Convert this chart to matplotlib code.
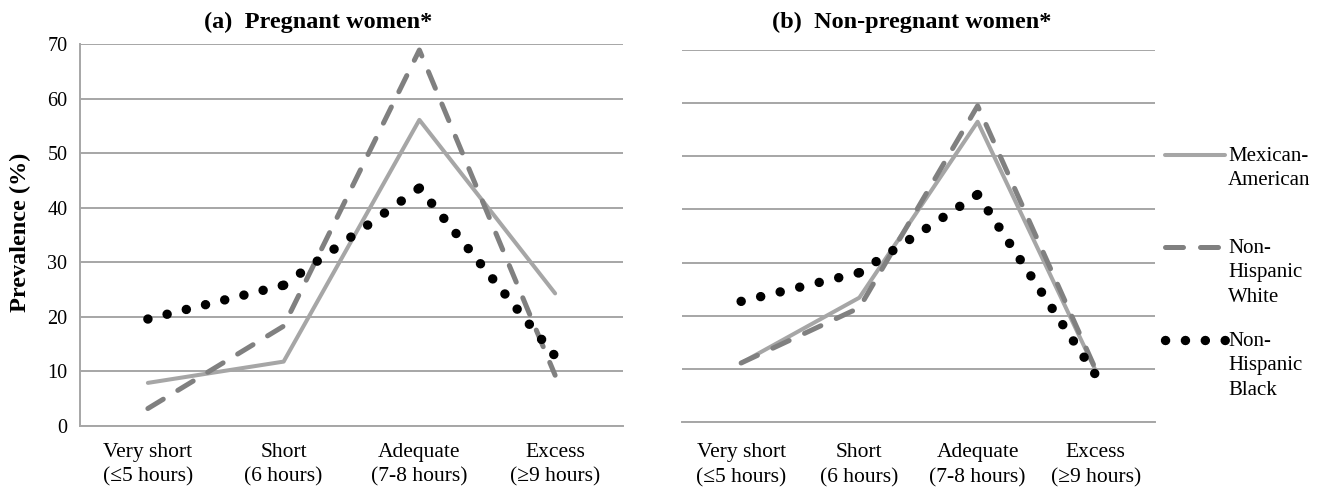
import matplotlib
matplotlib.use("Agg")
import matplotlib.pyplot as plt
from matplotlib.lines import Line2D
import numpy as np

plt.rcParams['font.family'] = ['Liberation Serif', 'DejaVu Serif']

categories = ["Very short\n(≤5 hours)", "Short\n(6 hours)", "Adequate\n(7-8 hours)", "Excess\n(≥9 hours)"]
series_names = ["Mexican-\nAmerican", "Non-\nHispanic\nWhite", "Non-\nHispanic\nBlack"]

# Panel (a) pregnant women
preg_mexican = [7.9, 11.8, 56.1, 24.3]
preg_white = [3.2, 18.3, 68.9, 9.3]
preg_black = [19.6, 25.8, 43.6, 12.8]

# Panel (b) non-pregnant women
nonpreg_mexican = [11.1, 23.4, 56.5, 9.6]
nonpreg_white = [11.1, 21.5, 59.5, 9.8]
nonpreg_black = [22.7, 28.1, 42.8, 8.8]

yticks = [0, 10, 20, 30, 40, 50, 60, 70]

W, H = 1323, 487
DPI = 100
fig = plt.figure(figsize=(W / DPI, H / DPI), dpi=DPI)

grid_color = '#a6a6a6'
DOT_LW = 6.8
DOT_SPACING_PX = 19.8
styles = [
    dict(color='#a6a6a6', lw=2.9, linestyle='-', solid_capstyle='round'),
    dict(color='#808080', lw=3.6, linestyle=(0, (3.6, 3.4)), dash_capstyle='round'),
    dict(color='#000000', lw=DOT_LW, linestyle=(0, (0.01, DOT_SPACING_PX / (DOT_LW * DPI / 72))),
         dash_capstyle='round'),
]

def px_axes(l, t, r, b):
    return fig.add_axes([l / W, 1 - b / H, (r - l) / W, (b - t) / H])

ax_a = px_axes(80, 44, 623, 426)
ax_b = px_axes(682, 50, 1155, 422)

def dotted_segments(ax, xs, ys):
    """Draw a dotted series segment by segment, spacing dots so one sits on every point."""
    lw_px = DOT_LW * DPI / 72
    pts = ax.transData.transform(np.column_stack([xs, ys]))
    for i in range(len(xs) - 1):
        L = np.hypot(*(pts[i + 1] - pts[i]))
        n = max(1, round(L / DOT_SPACING_PX))
        gap = (L / n) / lw_px * 0.99 - 0.01
        ax.plot(xs[i:i + 2], ys[i:i + 2], color='#000000', lw=DOT_LW,
                linestyle=(0, (0.01, gap)), dash_capstyle='round', clip_on=False)

x = list(range(len(categories)))
panels = [
    (ax_a, [preg_mexican, preg_white, preg_black], "(a)  Pregnant women*", True, 0.438, 11.5, 12),
    (ax_b, [nonpreg_mexican, nonpreg_white, nonpreg_black], "(b)  Non-pregnant women*", False, 0.486, 16, 15),
]
for ax, data, title, show_y, tx, tpad, xpad in panels:
    ax.set_xlim(-0.5, len(categories) - 0.5)
    ax.set_ylim(0, 70)
    ax.set_yticks(yticks)
    ax.grid(axis='y', color=grid_color, lw=1.4)
    ax.set_axisbelow(True)
    for s in ['top', 'right']:
        ax.spines[s].set_visible(False)
    ax.spines['bottom'].set_color(grid_color)
    ax.spines['bottom'].set_linewidth(1.4)
    if show_y:
        ax.spines['left'].set_color(grid_color)
        ax.spines['left'].set_linewidth(1.4)
        ax.tick_params(axis='y', length=0, pad=9, labelsize=14.5)
        ax.set_ylabel("Prevalence (%)", fontsize=17.5, fontweight='bold')
        ax.yaxis.set_label_coords(-0.09, 0.508)
    else:
        ax.spines['left'].set_visible(False)
        ax.tick_params(axis='y', length=0, labelleft=False)
    ax.set_xticks(x)
    ax.set_xticklabels(categories, fontsize=15.5, linespacing=1.42)
    ax.tick_params(axis='x', length=0, pad=xpad)
    mex, white, black = data
    ax.plot(x, mex, **styles[0], clip_on=False)
    ax.plot(x, white, **styles[1], clip_on=False)
    dotted_segments(ax, x, black)
    t = ax.set_title(title, fontsize=17.5, fontweight='bold', pad=tpad)
    t.set_x(tx)

# Manual legend (handles aligned with first text line)
leg = fig.add_axes([0, 0, 1, 1], facecolor='none')
leg.set_xlim(0, W)
leg.set_ylim(H, 0)
leg.axis('off')
legend_y = [155, 247, 340]
for name, st, y in zip(series_names, styles, legend_y):
    leg.add_line(Line2D([1165, 1225], [y, y], **st))
    leg.text(1228, y - 8, name, fontsize=15, va='top', ha='left', linespacing=1.38)

fig.savefig("out.png", dpi=DPI)
